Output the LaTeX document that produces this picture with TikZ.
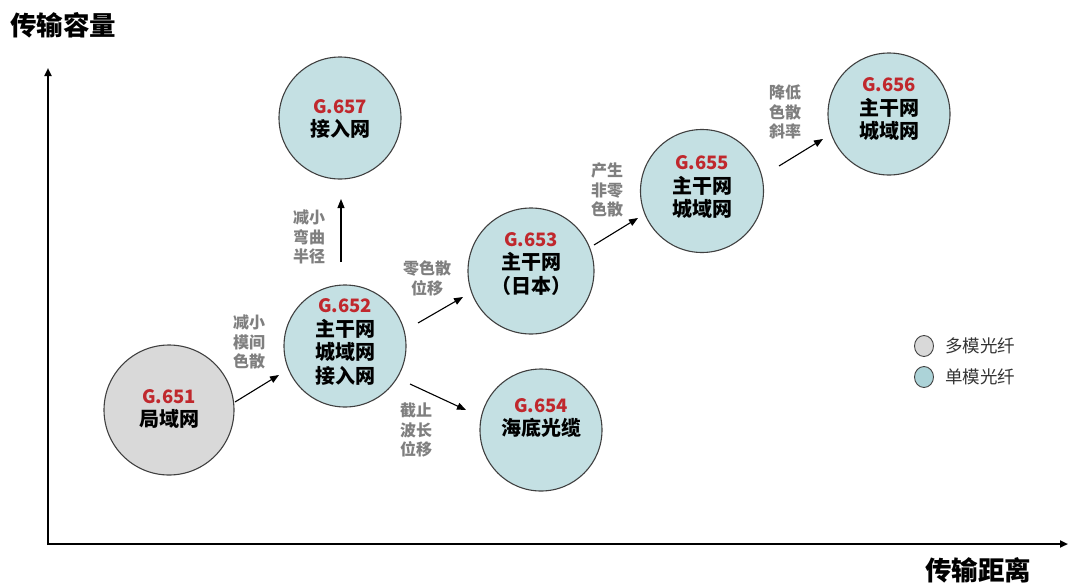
\documentclass[tikz,border=0pt]{standalone}
\usepackage{fontspec}
\newfontfamily\cjk{Noto Sans CJK SC}
\usetikzlibrary{arrows.meta,shapes.geometric}
\definecolor{sm}{HTML}{C4E0E3}
\definecolor{smleg}{HTML}{ACD3D8}
\definecolor{mm}{HTML}{D9D9D9}
\definecolor{edge}{HTML}{404040}
\definecolor{gred}{HTML}{C0282D}
\definecolor{lblgray}{HTML}{7F7F7F}
\tikzset{
  fiber/.style={circle, draw=edge, line width=1.1pt, minimum size=#1, inner sep=0pt},
  smf/.style={fiber=#1, fill=sm},
  mmf/.style={fiber=#1, fill=mm},
  ntext/.style={align=center, inner sep=0pt, font=\cjk\bfseries\fontsize{20}{23.5}\selectfont},
  lbl/.style={align=center, inner sep=0pt, text=lblgray, font=\cjk\bfseries\fontsize{16}{19.8}\selectfont},
  arr/.style={line width=1.1pt, -{Triangle[length=9pt,width=7pt]}},
  axis/.style={line width=2pt, -{Triangle[length=8pt,width=7pt]}},
  legtext/.style={anchor=west, inner sep=0pt, text=black!80, font=\cjk\fontsize{17.5}{20}\selectfont},
  ttl/.style={inner sep=0pt, font=\cjk\bfseries\fontsize{26.5}{30}\selectfont},
  legdot/.style={ellipse, draw=edge, line width=0.9pt, minimum width=19pt, minimum height=21pt, inner sep=0pt}
}
\newcommand{\gn}[1]{{\color{gred}\fontsize{18.5}{23.5}\selectfont #1}}
\begin{document}
\begin{tikzpicture}[x=1pt,y=-1pt]
\useasboundingbox (0,0) rectangle (1080,587);
% axes
\coordinate (o) at (48,544);
\coordinate (ytop) at (48,68);
\coordinate (xend) at (1068,544);
\draw[axis] (48,545) -- (ytop);
\draw[axis] (47,544) -- (xend);
\node[ttl, anchor=west] (ylab) at (10,25) {传输容量};
\node[ttl, anchor=west] (xlab) at (925,570) {传输距离};
% circles
\node[mmf=130pt] (c651) at (169,410) {};
\node[smf=122pt] (c652) at (345,346) {};
\node[smf=122pt] (c657) at (340,118) {};
\node[smf=126pt] (c653) at (531,271) {};
\node[smf=122pt] (c654) at (541,430) {};
\node[smf=123pt] (c655) at (702,191) {};
\node[smf=122pt] (c656) at (889,114) {};
% circle texts
\node[ntext] (t651) at (169,409) {\gn{G.651}\\局域网};
\node[ntext] (t652) at (345,342) {\gn{G.652}\\主干网\\城域网\\接入网};
\node[ntext] (t657) at (340,119) {\gn{G.657}\\接入网};
\node[ntext] (t653) at (531,264) {\gn{G.653}\\主干网\\（日本）};
\node[ntext] (t654) at (541,418) {\gn{G.654}\\海底光缆};
\node[ntext] (t655) at (702,187) {\gn{G.655}\\主干网\\城域网};
\node[ntext] (t656) at (889,109) {\gn{G.656}\\主干网\\城域网};
% arrows
\coordinate (a1s) at (235,402); \coordinate (a1e) at (279,375);
\coordinate (a2s) at (341,262); \coordinate (a2e) at (341,199);
\coordinate (a3s) at (418,323); \coordinate (a3e) at (463,297);
\coordinate (a4s) at (410,384); \coordinate (a4e) at (466,410);
\coordinate (a5s) at (594,245); \coordinate (a5e) at (638,218);
\coordinate (a6s) at (779,166); \coordinate (a6e) at (823,139);
\draw[arr] (a1s) -- (a1e);
\draw[arr] (a2s) -- (a2e);
\draw[arr] (a3s) -- (a3e);
\draw[arr] (a4s) -- (a4e);
\draw[arr] (a5s) -- (a5e);
\draw[arr] (a6s) -- (a6e);
% arrow labels
\node[lbl] (l1) at (249,342) {减小\\模间\\色散};
\node[lbl] (l2) at (309,237) {减小\\弯曲\\半径};
\node[lbl] (l3) at (427,278) {零色散\\位移};
\node[lbl] (l4) at (416,430) {截止\\波长\\位移};
\node[lbl] (l5) at (607,190) {产生\\非零\\色散};
\node[lbl] (l6) at (785,112) {降低\\色散\\斜率};
% legend
\node[legdot, fill=mm] (lg1) at (924,346) {};
\node[legdot, fill=smleg] (lg2) at (924,377) {};
\node[legtext] (lt1) at (945,346) {多模光纤};
\node[legtext] (lt2) at (945,377) {单模光纤};
\end{tikzpicture}
\end{document}
